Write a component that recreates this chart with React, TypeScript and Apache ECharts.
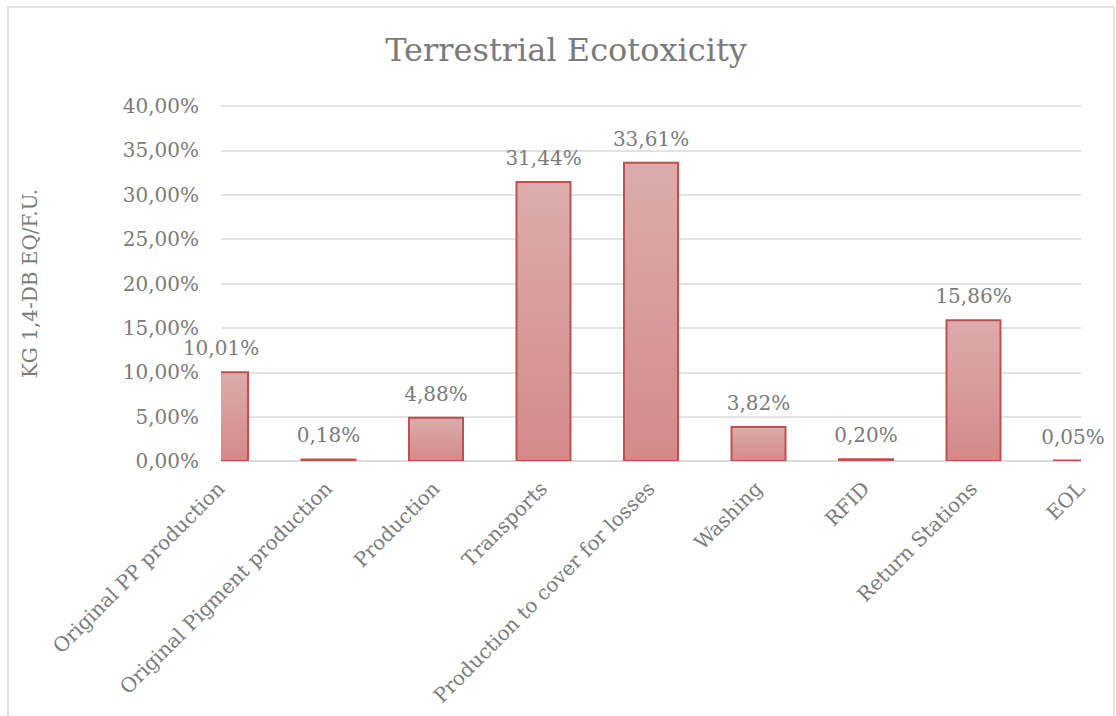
import React, { useEffect, useRef } from "react";
import * as echarts from "echarts";

// Share of terrestrial ecotoxicity per life-cycle stage (kg 1,4-DB eq / F.U.)
const stages = [
  "Original PP production",
  "Original Pigment production",
  "Production",
  "Transports",
  "Production to cover for losses",
  "Washing",
  "RFID",
  "Return Stations",
  "EOL",
];
const shares = [10.01, 0.18, 4.88, 31.44, 33.61, 3.82, 0.2, 15.86, 0.05];
const yTicks = [0, 5, 10, 15, 20, 25, 30, 35, 40];

const FONT = "'DejaVu Serif', 'Liberation Serif', serif";
const TEXT = "#7b7b7b";
const BAR_WIDTH = 54;

const pct = (v: number) => v.toFixed(2).replace(".", ",") + "%";

export default function App() {
  const ref = useRef<HTMLDivElement>(null);

  useEffect(() => {
    document.body.style.margin = "0";
    if (!ref.current) return;
    const chart = echarts.init(ref.current, null, { renderer: "svg" });

    const barFill = new echarts.graphic.LinearGradient(0, 0, 0, 1, [
      { offset: 0, color: "#dcacac" },
      { offset: 1, color: "#d38a89" },
    ]);

    // Bars sit on the category ticks, so the outer ones are cut by the plot edge.
    const barData = shares.map((v, i) => [i, v]);

    // Value labels, kept unclipped by a transparent bar layer.
    const labelData = shares.map((v, i) =>
      i === shares.length - 1
        ? { value: v, label: { offset: [-8, 0] } }
        : { value: v }
    );

    chart.setOption({
      animation: false,
      backgroundColor: "#ffffff",
      graphic: [
        {
          type: "rect",
          shape: { x: 8, y: 7, width: 1106, height: 730 },
          style: { fill: "none", stroke: "#d9d9d9", lineWidth: 1.5 },
          silent: true,
        },
      ],
      title: {
        text: "Terrestrial Ecotoxicity",
        left: 561,
        textAlign: "center",
        top: 29,
        textStyle: {
          fontFamily: FONT,
          fontSize: 32,
          fontWeight: "normal",
          color: TEXT,
        },
      },
      grid: { left: 221, right: 35, top: 106, bottom: 255 },
      xAxis: {
        type: "category",
        data: stages,
        boundaryGap: false,
        axisLine: { lineStyle: { color: "#d9d9d9", width: 1.5 } },
        axisTick: { show: false },
        axisLabel: {
          rotate: 45,
          interval: 0,
          margin: 24,
          fontFamily: FONT,
          fontSize: 20,
          color: TEXT,
        },
      },
      yAxis: {
        type: "value",
        min: yTicks[0],
        max: yTicks[yTicks.length - 1],
        interval: yTicks[1] - yTicks[0],
        name: "KG 1,4-DB EQ/F.U.",
        nameLocation: "middle",
        nameGap: 181,
        nameTextStyle: { fontFamily: FONT, fontSize: 20, color: TEXT },
        axisLine: { show: false },
        axisTick: { show: false },
        axisLabel: {
          margin: 22,
          fontFamily: FONT,
          fontSize: 20,
          color: TEXT,
          formatter: (v: number) => pct(v),
        },
        splitLine: { lineStyle: { color: "#d9d9d9", width: 1.5 } },
      },
      series: [
        {
          type: "custom",
          data: barData,
          encode: { x: 0, y: 1 },
          clip: true,
          z: 2,
          renderItem: (_params: any, api: any) => {
            const idx = api.value(0);
            const top = api.coord([idx, api.value(1)]);
            const base = api.coord([idx, 0]);
            return {
              type: "rect",
              shape: {
                x: top[0] - BAR_WIDTH / 2,
                y: top[1],
                width: BAR_WIDTH,
                height: base[1] - top[1],
              },
              style: { fill: barFill, stroke: "#c0504d", lineWidth: 2 },
            };
          },
        },
        {
          type: "bar",
          data: labelData,
          barWidth: BAR_WIDTH,
          z: 3,
          silent: true,
          itemStyle: { color: "rgba(0,0,0,0)" },
          label: {
            show: true,
            position: "top",
            distance: 14,
            fontFamily: FONT,
            fontSize: 20,
            color: TEXT,
            formatter: (p: any) => pct(p.value),
          },
        },
      ],
    });

    return () => chart.dispose();
  }, []);

  return (
    <div
      ref={ref}
      style={{ position: "fixed", left: 0, top: 0, width: 1116, height: 716 }}
    />
  );
}
